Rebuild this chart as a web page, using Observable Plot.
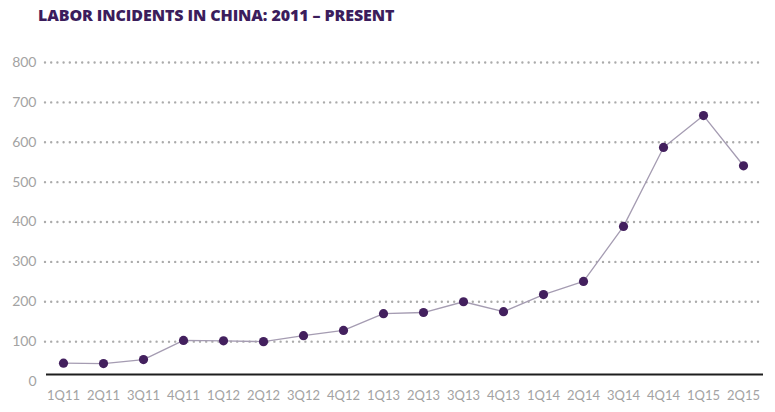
<!DOCTYPE html>
<html>
<head>
<meta charset="utf-8">
<script src="https://cdn.jsdelivr.net/npm/d3@7"></script>
<script src="https://cdn.jsdelivr.net/npm/@observablehq/plot@0.6"></script>
<style>
  body { margin: 0; background: #fff; }
  #title { height: 30px; padding-left: 38px; font-family: "Open Sans", sans-serif; font-weight: 800; font-size: 16px; color: #3b1d5c; line-height: 30px; letter-spacing: -0.1px; box-sizing: border-box; }
  #chart svg { display: block; }
</style>
</head>
<body>
<div id="title">LABOR INCIDENTS IN CHINA: 2011 – PRESENT</div>
<div id="chart"></div>
<script>
const quarters = ["1Q11","2Q11","3Q11","4Q11","1Q12","2Q12","3Q12","4Q12","1Q13","2Q13","3Q13","4Q13","1Q14","2Q14","3Q14","4Q14","1Q15","2Q15"];
const incidents = [46, 45, 55, 103, 102, 100, 115, 128, 170, 173, 200, 175, 218, 251, 389, 587, 667, 541];
const yTicks = [0, 100, 200, 300, 400, 500, 600, 700, 800];

const data = quarters.map((q, i) => ({quarter: q, value: incidents[i]}));

const chart = Plot.plot({
  width: 775,
  height: 382,
  marginTop: 32,
  marginBottom: 31,
  marginLeft: 57,
  marginRight: 26,
  style: { fontFamily: "Lato, sans-serif", background: "#fff" },
  x: { type: "point", domain: quarters, padding: 0, label: null },
  y: { domain: [0, 800], label: null },
  marks: [
    Plot.ruleY(yTicks.filter(d => d > 0), {stroke: "#ababab", strokeWidth: 2.4, strokeDasharray: "0,6.2", strokeLinecap: "round", insetLeft: -12, insetRight: -13}),
    Plot.ruleY([0], {stroke: "#1e1e1e", strokeWidth: 1.8, dy: -7, insetLeft: -11, insetRight: -14}),
    Plot.axisY({ticks: yTicks, tickSize: 0, tickPadding: 21, fontSize: 14, fill: "#a3a3a3", color: "#a3a3a3"}),
    Plot.axisX({tickSize: 0, tickPadding: 9, fontSize: 13, fill: "#a3a3a3", color: "#a3a3a3"}),
    Plot.line(data, {x: "quarter", y: "value", stroke: "#a59cb2", strokeWidth: 1.3}),
    Plot.dot(data, {x: "quarter", y: "value", r: 4.6, fill: "#43205e", stroke: "none"})
  ]
});
document.getElementById("chart").appendChild(chart);
</script>
</body>
</html>
